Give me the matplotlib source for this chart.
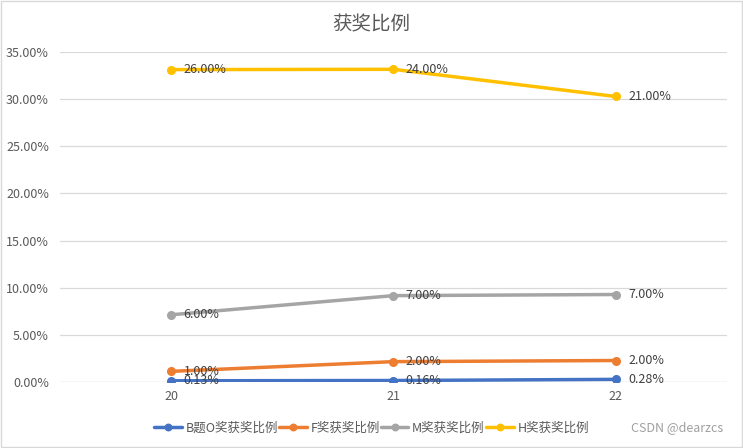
import matplotlib
matplotlib.use("Agg")
import matplotlib.pyplot as plt
import numpy as np
from matplotlib.ticker import FuncFormatter
from matplotlib.patches import Rectangle

plt.rcParams['font.family'] = ['Noto Sans CJK SC', 'DejaVu Sans']

categories = ['20', '21', '22']
series_names = ['B题O奖获奖比例', 'F奖获奖比例', 'M奖获奖比例', 'H奖获奖比例']
b_o = [0.13, 0.16, 0.28]
f_award = [1.00, 2.00, 2.00]
m_award = [6.00, 7.00, 7.00]
h_award = [26.00, 24.00, 21.00]
colors = ['#4472C4', '#ED7D31', '#A5A5A5', '#FFC000']
yticks = [0, 5, 10, 15, 20, 25, 30, 35]

fig = plt.figure(figsize=(7.43, 4.48), dpi=100)
ax = fig.add_axes([0.0808, 0.1473, 0.8972, 0.7367])

x = np.arange(len(categories))
series = [b_o, f_award, m_award, h_award]
cum = np.zeros(len(categories))
for name, vals, c in zip(series_names, series, colors):
    cum = cum + np.array(vals)
    ax.plot(x, cum, color=c, lw=2.5, marker='o', ms=5.5, label=name,
            solid_capstyle='round', zorder=3)
    for xi, yi, v in zip(x, cum, vals):
        ax.annotate(f'{v:.2f}%', (xi, yi), xytext=(9, 0),
                    textcoords='offset points', va='center', ha='left',
                    fontsize=9, color='#404040', zorder=4)

ax.set_xlim(-0.5, 2.5)
ax.set_ylim(0, 35)
ax.set_yticks(yticks)
ax.yaxis.set_major_formatter(FuncFormatter(lambda v, p: f'{v:.2f}%'))
ax.set_xticks(x)
ax.set_xticklabels(categories)
ax.grid(axis='y', color='#D9D9D9', lw=0.9, zorder=0)
ax.tick_params(axis='both', length=0, labelsize=9, colors='#595959')
ax.tick_params(axis='y', pad=8)
ax.tick_params(axis='x', pad=6)
for s in ax.spines.values():
    s.set_visible(False)
ax.axhline(0, color='#D9D9D9', lw=0.9, zorder=1)

fig.text(0.5, 0.944, '获奖比例', ha='center', va='center', fontsize=14, color='#595959')

handles, labels = ax.get_legend_handles_labels()
leg = fig.legend(handles, labels, loc='center', bbox_to_anchor=(0.5, 0.045), ncol=4,
                 frameon=False, fontsize=9, handlelength=2.2, handletextpad=0.3,
                 columnspacing=0.1, labelcolor='#595959', markerscale=0.85)

fig.text(0.973, 0.045, 'CSDN @dearzcs', ha='right', va='center', fontsize=9, color='#A0A0A0')

fig.patches.append(Rectangle((0.001, 0.003), 0.997, 0.994, transform=fig.transFigure,
                             fill=False, edgecolor='#D9D9D9', lw=1))

fig.savefig('out.png', dpi=100)
